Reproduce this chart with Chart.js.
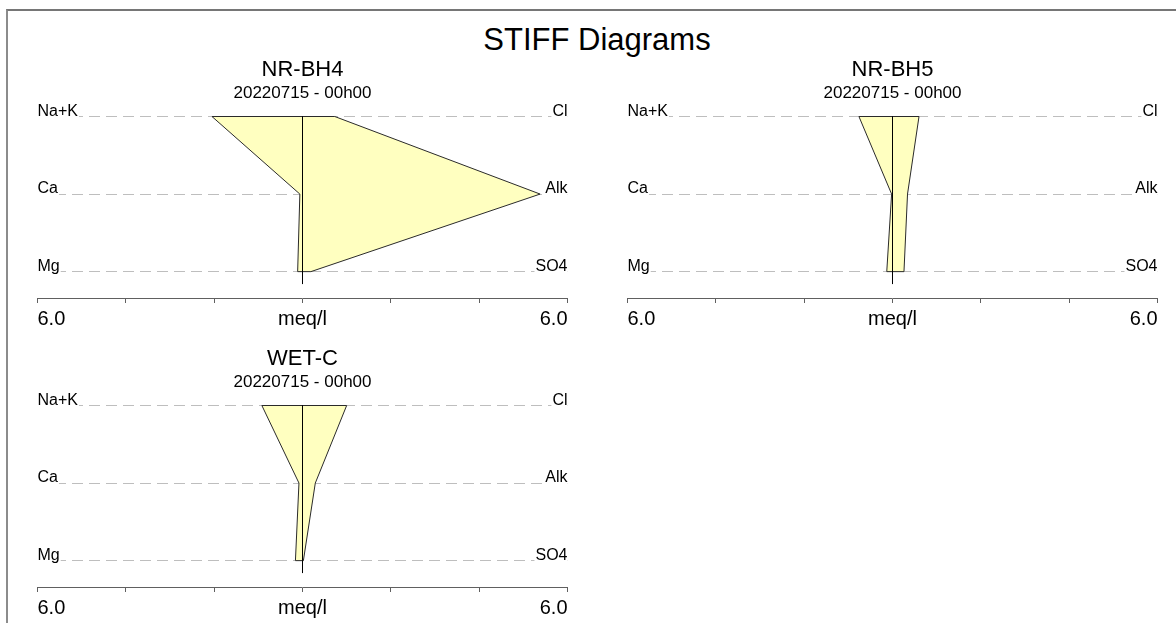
<!DOCTYPE html>
<html>
<head>
<meta charset="utf-8">
<script src="https://cdn.jsdelivr.net/npm/chart.js@4/dist/chart.umd.min.js"></script>
<style>
  html, body { margin: 0; padding: 0; background: #fff; }
  body { width: 1176px; height: 623px; overflow: hidden; position: relative;
         font-family: 'Liberation Sans', Arial, sans-serif; }
  #frame { position: absolute; left: 6px; top: 9px; width: 1300px; height: 800px;
           border-top: 2px solid #767676; border-left: 2px solid #8c8c8c; }
  #title { position: absolute; left: 8px; width: 1178px; top: 25px; text-align: center;
           font-size: 31px; line-height: 30px; color: #000; }
  .panel { position: absolute; width: 600px; height: 290px; }
</style>
</head>
<body>
<div id="frame"></div>
<div id="title">STIFF Diagrams</div>
<div class="panel" style="left:0;top:50px"><canvas id="stiff0" width="600" height="290"></canvas></div>
<div class="panel" style="left:590px;top:50px"><canvas id="stiff1" width="600" height="290"></canvas></div>
<div class="panel" style="left:0;top:339px"><canvas id="stiff2" width="600" height="290"></canvas></div>
<script>
// Ion rows, top to bottom
const cationLabels = ['Na+K', 'Ca', 'Mg'];
const anionLabels = ['Cl', 'Alk', 'SO4'];

// Sampling points
const wellNames = ['NR-BH4', 'NR-BH5', 'WET-C'];
const sampleTimes = ['20220715 - 00h00', '20220715 - 00h00', '20220715 - 00h00'];

// Concentrations in meq/l, same order as the row labels
const cationsNRBH4 = [2.05, 0.06, 0.11];
const anionsNRBH4 = [0.73, 5.38, 0.19];
const cationsNRBH5 = [0.76, 0.02, 0.13];
const anionsNRBH5 = [0.60, 0.34, 0.26];
const cationsWETC = [0.92, 0.08, 0.16];
const anionsWETC = [1.00, 0.29, 0.02];

// Horizontal meq/l axis
const axisTickValues = [-6, -4, -2, 0, 2, 4, 6];
const axisTickLabels = ['6.0', '', '', 'meq/l', '', '', '6.0'];

const FONT = "'Liberation Sans', Arial, sans-serif";
Chart.defaults.font.family = FONT;
Chart.defaults.color = '#000';

// row index 0 (top) sits at y = 2, bottom row at y = 0
const rowY = i => cationLabels.length - 1 - i;
const Y_MIN = -0.34;
const STEM_END = -0.16;

function stiffPolygon(cations, anions) {
  const pts = [];
  cations.forEach((v, i) => pts.push({ x: -v, y: rowY(i) }));
  for (let i = anions.length - 1; i >= 0; i--) pts.push({ x: anions[i], y: rowY(i) });
  pts.push({ x: -cations[0], y: rowY(0) });
  return pts;
}

function drawStiff(canvasId, name, time, cations, anions) {
  const yTickValues = cationLabels.map((_, i) => rowY(i));
  new Chart(document.getElementById(canvasId), {
    type: 'scatter',
    data: {
      datasets: [
        {
          // centre stem at zero
          data: [{ x: 0, y: rowY(0) }, { x: 0, y: STEM_END }],
          showLine: true, borderColor: '#000', borderWidth: 1,
          pointRadius: 0, fill: false, clip: false
        },
        {
          data: stiffPolygon(cations, anions),
          showLine: true, borderColor: '#2a2a2a', borderWidth: 1,
          backgroundColor: '#ffffc0', fill: 'shape',
          pointRadius: 0, tension: 0, clip: false
        }
      ]
    },
    options: {
      responsive: false,
      animation: false,
      events: [],
      layout: { padding: { left: 37.5, right: 32.5, top: 0, bottom: 5 } },
      plugins: {
        legend: { display: false },
        tooltip: { enabled: false },
        title: {
          display: true, text: name, color: '#000',
          font: { size: 22, weight: 'normal', family: FONT, lineHeight: 1.2 },
          padding: { top: 6.6, bottom: 0 }
        },
        subtitle: {
          display: true, text: time, color: '#000',
          font: { size: 17, weight: 'normal', family: FONT, lineHeight: 1.2 },
          padding: { top: 0, bottom: 13.1 }
        }
      },
      scales: {
        x: {
          type: 'linear', position: 'bottom', min: -6, max: 6,
          afterBuildTicks: s => { s.ticks = axisTickValues.map(v => ({ value: v })); },
          grid: { drawOnChartArea: false, drawTicks: true, tickLength: 5, color: '#606060', lineWidth: 1 },
          border: { display: true, color: '#606060', width: 1 },
          ticks: {
            align: 'inner', padding: 4, maxRotation: 0, autoSkip: false,
            font: { size: 20, family: FONT },
            color: '#000',
            callback: v => axisTickLabels[axisTickValues.indexOf(v)] ?? ''
          }
        },
        y: {
          type: 'linear', position: 'left', min: Y_MIN, max: 2,
          afterBuildTicks: s => { s.ticks = yTickValues.map(v => ({ value: v })); },
          grid: { drawTicks: false, color: '#bebebe', lineWidth: 1 },
          border: { display: false, dash: [11, 6] },
          ticks: {
            mirror: true, padding: 0, labelOffset: -5, autoSkip: false,
            font: { size: 16, family: FONT }, color: '#000',
            showLabelBackdrop: true, backdropColor: '#fff', backdropPadding: { left: 0, right: 1, top: 0, bottom: 0 },
            callback: v => cationLabels[cationLabels.length - 1 - v]
          }
        },
        y2: {
          type: 'linear', position: 'right', min: Y_MIN, max: 2,
          afterBuildTicks: s => { s.ticks = yTickValues.map(v => ({ value: v })); },
          grid: { display: false, drawTicks: false },
          border: { display: false },
          ticks: {
            mirror: true, padding: 0, labelOffset: -5, autoSkip: false,
            font: { size: 16, family: FONT }, color: '#000',
            showLabelBackdrop: true, backdropColor: '#fff', backdropPadding: { left: 1, right: 0, top: 0, bottom: 0 },
            callback: v => anionLabels[anionLabels.length - 1 - v]
          }
        }
      }
    }
  });
}

drawStiff('stiff0', wellNames[0], sampleTimes[0], cationsNRBH4, anionsNRBH4);
drawStiff('stiff1', wellNames[1], sampleTimes[1], cationsNRBH5, anionsNRBH5);
drawStiff('stiff2', wellNames[2], sampleTimes[2], cationsWETC, anionsWETC);
</script>
</body>
</html>
